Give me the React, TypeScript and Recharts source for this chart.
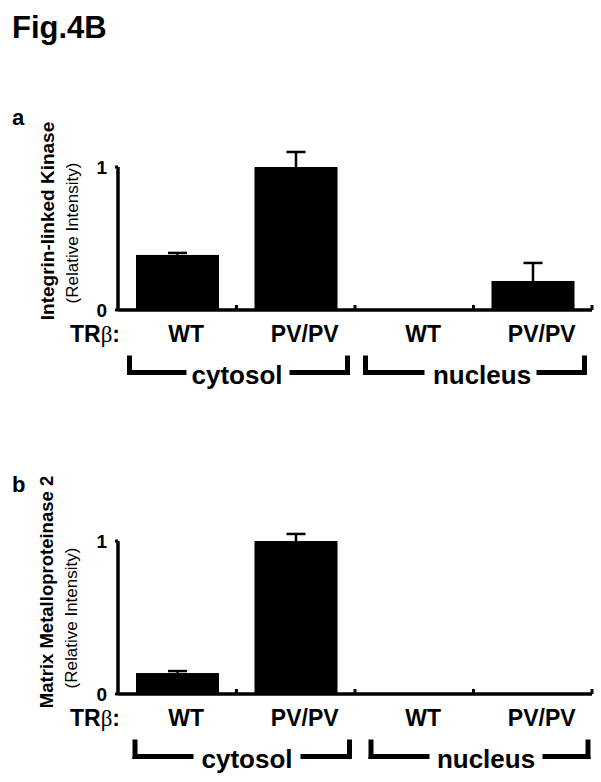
import { Bar, BarChart, XAxis, YAxis } from "recharts"

const categories = ["WT", "PV/PV", "WT", "PV/PV"]
const ilkValues = [0.385, 1.0, 0, 0.203]
const ilkErrors = [0.014, 0.105, 0, 0.126]
const mmpValues = [0.137, 1.0, 0, 0]
const mmpErrors = [0.013, 0.046, 0, 0]
const yTicks = [0, 1]

const FONT = "'Liberation Sans', Arial, Helvetica, sans-serif"
const PLOT_LEFT = 118
const PLOT_RIGHT = 592
const BAND = (PLOT_RIGHT - PLOT_LEFT) / categories.length

const ilkData = categories.map((label, i) => ({ label, value: ilkValues[i], err: ilkErrors[i] }))
const mmpData = categories.map((label, i) => ({ label, value: mmpValues[i], err: mmpErrors[i] }))

// bar + upper error whisker, scaled from the bar's own pixel height
function BarWithError(props: any) {
  const { x, y, width, height, payload } = props
  const v = payload.value
  if (!v) return <g />
  const perUnit = height / v
  const top = y - payload.err * perUnit
  const cx = x + width / 2
  return (
    <g>
      <rect x={x} y={y} width={width} height={height} fill="#000" />
      {payload.err > 0 && (
        <g stroke="#000" strokeWidth={2.5}>
          <line x1={cx} y1={y} x2={cx} y2={top} />
          <line x1={cx - 9.5} y1={top} x2={cx + 9.5} y2={top} />
        </g>
      )}
    </g>
  )
}

function CategoryTick(props: any) {
  const { x, y, payload } = props
  return (
    <g>
      <rect x={x + BAND / 2 - 1.5} y={y - 5} width={3} height={5} fill="#000" />
      <text x={x + 9} y={y + 32} textAnchor="middle" fontFamily={FONT} fontWeight="bold" fontSize={23} fill="#000">
        {payload.value}
      </text>
    </g>
  )
}

function Panel({ data, height, top, plotH }: { data: any[]; height: number; top: number; plotH: number }) {
  return (
    <BarChart width={601} height={height} data={data} margin={{ top, right: 601 - PLOT_RIGHT, bottom: 0, left: 0 }} barSize={83}>
      <XAxis
        dataKey="label"
        height={height - top - plotH}
        axisLine={{ stroke: "#000", strokeWidth: 3.5 }}
        tickLine={false}
        tickSize={0}
        tickMargin={0}
        interval={0}
        tick={<CategoryTick />}
      />
      <YAxis
        type="number"
        domain={[0, 1]}
        ticks={yTicks}
        width={PLOT_LEFT}
        axisLine={{ stroke: "#000", strokeWidth: 3.5 }}
        tickLine={{ stroke: "#000", strokeWidth: 3 }}
        tickSize={3}
        tickMargin={8}
        tick={{ fill: "#000", fontSize: 19, fontWeight: "bold", fontFamily: FONT }}
      />
      <Bar dataKey="value" fill="#000" isAnimationActive={false} shape={(p: any) => <BarWithError {...p} />} />
    </BarChart>
  )
}

function Bracket({ axisY, x1, x2, leftEnd, rightStart, textX, label }: any) {
  const t = axisY + 48
  const b = axisY + 65
  const h = axisY + 62.5
  return (
    <g>
      <path
        d={`M${x1},${t} V${h} H${leftEnd} M${rightStart},${h} H${x2} V${t}`}
        stroke="#000"
        strokeWidth={5}
        fill="none"
        strokeLinecap="square"
      />
      <path d={`M${x1},${h} V${b} M${x2},${h} V${b}`} stroke="#000" strokeWidth={5} />
      <text x={textX} y={axisY + 74} textAnchor="middle" fontFamily={FONT} fontWeight="bold" fontSize={26} fill="#000">
        {label}
      </text>
    </g>
  )
}

function YTitle({ cx, cy, text, size, bold }: any) {
  return (
    <text
      x={cx}
      y={cy}
      transform={`rotate(-90, ${cx}, ${cy})`}
      textAnchor="middle"
      dominantBaseline="central"
      fontFamily={FONT}
      fontWeight={bold ? "bold" : "normal"}
      fontSize={size}
      fill="#000"
    >
      {text}
    </text>
  )
}

function TrLabel({ axisY }: { axisY: number }) {
  return (
    <text x={120} y={axisY + 32} textAnchor="end" fontFamily={FONT} fontWeight="bold" fontSize={23} fill="#000">
      TR<tspan fontFamily="'Liberation Serif', serif" fontWeight="normal">β</tspan>:
    </text>
  )
}

export default function App() {
  return (
    <div style={{ position: "absolute", left: 0, top: 0, width: 601, height: 782, background: "#fff" }}>
      <div style={{ position: "absolute", left: 0, top: 0 }}>
        <Panel data={ilkData} height={400} top={167} plotH={143} />
      </div>
      <div style={{ position: "absolute", left: 0, top: 400 }}>
        <Panel data={mmpData} height={382} top={141} plotH={153} />
      </div>
      <svg width={601} height={782} style={{ position: "absolute", left: 0, top: 0, pointerEvents: "none" }}>
        <text x={12} y={38} fontFamily={FONT} fontWeight="bold" fontSize={31} fill="#000">
          Fig.4B
        </text>
        <text x={12} y={125} fontFamily={FONT} fontWeight="bold" fontSize={22} fill="#000">
          a
        </text>
        <text x={12} y={492} fontFamily={FONT} fontWeight="bold" fontSize={22} fill="#000">
          b
        </text>

        <YTitle cx={47} cy={221} text="Integrin-linked Kinase" size={19} bold />
        <YTitle cx={72} cy={233} text="(Relative Intensity)" size={17} />
        <YTitle cx={46} cy={592} text="Matrix Metalloproteinase 2" size={18.5} bold />
        <YTitle cx={71} cy={618} text="(Relative Intensity)" size={17} />

        <TrLabel axisY={310} />
        <TrLabel axisY={694} />

        <Bracket axisY={310} x1={129.5} x2={347.5} leftEnd={184} rightStart={292} textX={237} label="cytosol" />
        <Bracket axisY={310} x1={365.5} x2={584.5} leftEnd={422} rightStart={539} textX={482} label="nucleus" />
        <Bracket axisY={694} x1={135} x2={349.5} leftEnd={191} rightStart={303} textX={247} label="cytosol" />
        <Bracket axisY={694} x1={371} x2={588} leftEnd={427} rightStart={545} textX={486} label="nucleus" />
      </svg>
    </div>
  )
}
